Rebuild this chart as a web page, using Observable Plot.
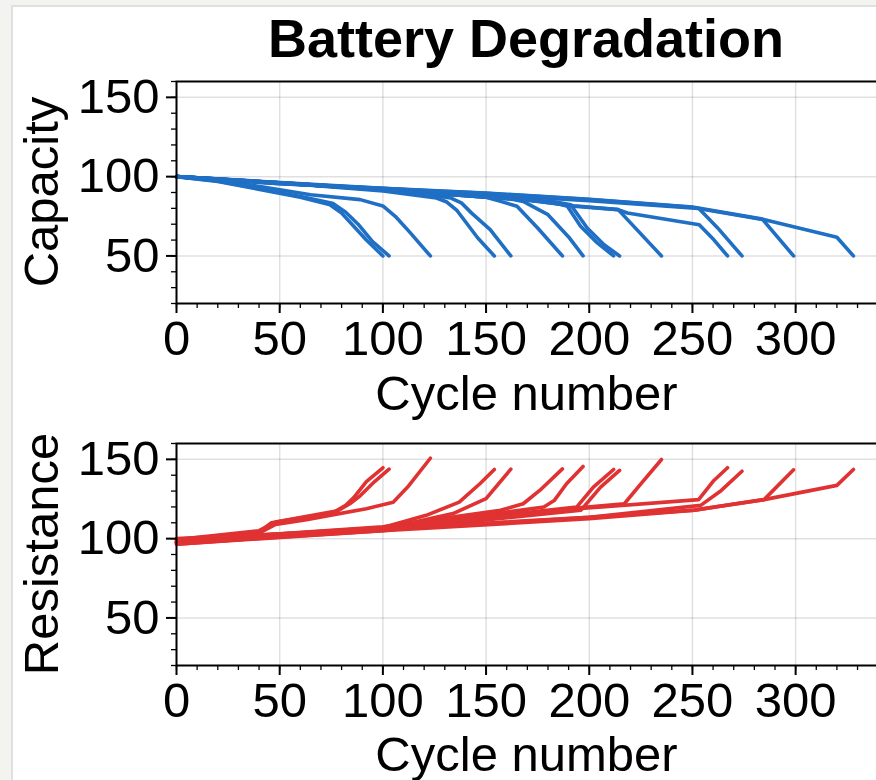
<!DOCTYPE html>
<html><head><meta charset="utf-8">
<script src="https://cdn.jsdelivr.net/npm/d3@7"></script>
<script src="https://cdn.jsdelivr.net/npm/@observablehq/plot@0.6"></script>
<style>
html,body{margin:0;padding:0;width:876px;height:780px;overflow:hidden;background:#f3f3ef;}
#card{position:absolute;left:11px;top:5px;width:1000px;height:900px;background:#fff;border-left:2px solid #e0e0de;border-top:2px solid #e0e0de;}
.txt{position:absolute;font-family:"Liberation Sans",Arial,Helvetica,sans-serif;color:#000;white-space:nowrap;}
.lbl{font-size:49px;line-height:49px;}
.title{font-size:54px;line-height:54px;font-weight:bold;left:0;width:1052px;text-align:center;top:11px;}
.xl{left:0;width:1053px;text-align:center;}
.yl{transform:translate(-50%,-50%) rotate(-90deg);}
#topPlot,#botPlot{position:absolute;left:0;}
</style></head><body>
<div id="card"></div>
<div id="topPlot" style="top:0px"></div>
<div id="botPlot" style="top:380px"></div>
<div class="txt title">Battery Degradation</div>
<div class="txt lbl xl" style="top:368.5px">Cycle number</div>
<div class="txt lbl xl" style="top:730px">Cycle number</div>
<div class="txt lbl yl" style="left:40.5px;top:192px">Capacity</div>
<div class="txt lbl yl" style="left:40.5px;top:554px">Resistance</div>
<script>
// ---- data (knots) ----
const capacityCycles = [
  [0,20,60,74,80,85,92,100],
  [0,20,62,76,82,88,95,103],
  [0,20,65,89,100,106,113,123],
  [0,60,100,126,131,136,146,154],
  [0,60,110,133,138,143,152,162],
  [0,100,150,157,165,175,187],
  [0,100,160,168,180,190,197],
  [0,100,182,189.4,195.8,203.9,211.8],
  [0,100,184,191,199,207.2,214.7],
  [0,100,170,192.6,214,235],
  [0,100,170,192.6,214,218.5,253.3,260.5,267],
  [0,100,200,253,262,274],
  [0,50,100,150,200,250,284,299],
  [0,50,100,150,200,250,284,320,328]
];
const capacityValues = [
  [100,97,87,82.5,77,70,60,50],
  [100,97.3,87,83,77.5,70,59,50],
  [100,98,88.6,85.5,81.5,75,65,50],
  [100,95,91,86.5,84,78.5,61.3,50],
  [100,95.3,90.5,86.5,83.5,77,66.6,50],
  [100,92,87,84.4,81.3,67.6,50],
  [100,92.3,86.5,84.4,76,62,50],
  [100,92,84,81.3,68.7,58.2,50],
  [100,92.2,84,82.3,67.6,57.1,50],
  [100,92,85.5,81.3,79.2,50],
  [100,91.8,85.2,81.6,79.2,77.1,69.7,60,50],
  [100,92.6,84.8,80,68,50],
  [100,95.5,92.5,89.5,85.5,80.6,73,50],
  [100,95.6,92.7,89.7,85.7,80.9,73.2,61.8,50]
];
const resistanceCycles = [
  [0,40,46,76,82,86,92,100],
  [0,40,48,78,84,89,96,103],
  [0,40,48,63,92,105,112,123],
  [0,100,121,137,147,154],
  [0,100,134,150,162],
  [0,100,157,168,176,187],
  [0,100,178,183,189,197],
  [0,100,194,202,211.8],
  [0,100,196,205.5,214.7],
  [0,100,199,217,225,235],
  [0,100,196,253,260.4,267],
  [0,100,200,254,264,274],
  [0,100,200,251,284.7,299],
  [0,100,200,251,284.7,320,328]
];
const resistanceValues = [
  [98,104,110,116.5,121,126,136,144.7],
  [99.5,105,110.5,117.5,122,127,136,143.8],
  [97.5,103.5,109,112,118.9,123,132.5,150.7],
  [98,107,114.7,123,134.6,143.6],
  [97,106,115.8,125.2,143.8],
  [98.5,107.5,117.9,122,130.4,144],
  [96.5,106,120,124,134.6,145.5],
  [98,106.5,120,132.5,143.6],
  [96.5,105,118,132.5,143],
  [99,107,120,122,134.6,149.9],
  [98,106,119,124.6,136.7,144.7],
  [97.5,105.5,113.5,121,130.4,142.5],
  [97,105,112.5,118,124.6,143.4],
  [100,106,113.5,118,124.6,133.6,143.6]
];
const xMajorTicks = [0,50,100,150,200,250,300];
const xMinorTicks = d3.range(0, 345, 10);
const yMajorTicks = [50,100,150];
const yMinorTicks = d3.range(20, 161, 10);
const xDomain = [0, 345];
const yDomain = [20, 160];

function toRows(cycles, values) {
  return cycles.flatMap((cs, i) => cs.map((c, j) => ({battery: i, cycle: c, value: values[i][j]})));
}
const capRows = toRows(capacityCycles, capacityValues);
const resRows = toRows(resistanceCycles, resistanceValues);

function panel(rows, color, mt, mb) {
  return Plot.plot({
    width: 888, height: mt + 222 + mb,
    marginLeft: 176, marginRight: 0, marginTop: mt, marginBottom: mb,
    x: {domain: xDomain},
    y: {domain: yDomain},
    style: {background: "transparent", maxWidth: "none", overflow: "visible",
            fontFamily: '"Liberation Sans", Arial, Helvetica, sans-serif', color: "#000"},
    marks: [
      Plot.gridX({ticks: xMajorTicks, stroke: "#000", strokeOpacity: 0.12, strokeWidth: 1.5}),
      Plot.gridY({ticks: yMajorTicks, stroke: "#000", strokeOpacity: 0.12, strokeWidth: 1.5}),
      Plot.line(rows, {x: "cycle", y: "value", z: "battery", stroke: color, strokeWidth: 3.6}),
      Plot.frame({stroke: "#000", strokeWidth: 2}),
      Plot.axisX({ticks: xMinorTicks, tickSize: 5, tickFormat: () => "", label: null, strokeWidth: 1.3}),
      Plot.axisY({ticks: yMinorTicks, tickSize: 5, tickFormat: () => "", label: null, strokeWidth: 1.3}),
      Plot.axisX({ticks: xMajorTicks, tickSize: 10, tickPadding: 7, fontSize: 49, label: null, strokeWidth: 2}),
      Plot.axisY({ticks: yMajorTicks, tickSize: 10, tickPadding: 7, fontSize: 49, label: null, strokeWidth: 2})
    ]
  });
}
document.getElementById("topPlot").append(panel(capRows, "#1f6fc5", 81, 65));
document.getElementById("botPlot").append(panel(resRows, "#e03232", 63, 60));
</script>
</body></html>
